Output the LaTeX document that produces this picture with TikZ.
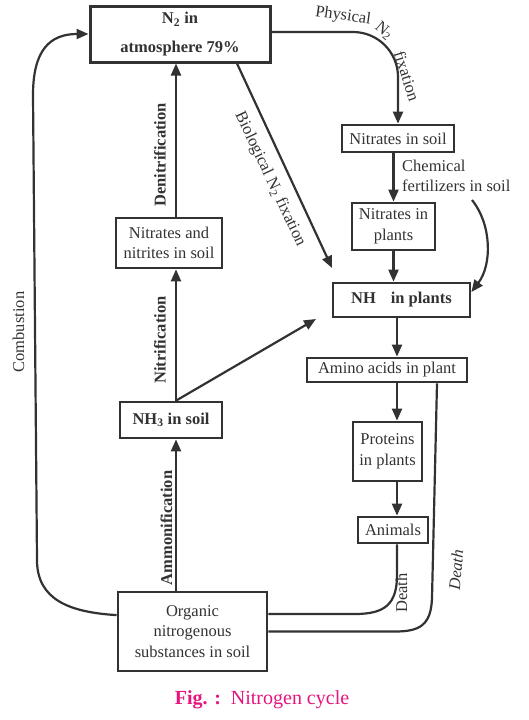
\documentclass[tikz,border=0pt]{standalone}
\usepackage{fontspec}
\setmainfont{Liberation Serif}
\usetikzlibrary{arrows.meta}
\definecolor{ink}{RGB}{50,50,50}
\definecolor{figpink}{RGB}{230,20,125}
\begin{document}
\begin{tikzpicture}[x=1pt,y=-1pt,
  box/.style={draw=ink, line width=2.7pt, align=center, inner sep=0pt, text=ink, font=\fontsize{16.5}{20.5}\selectfont},
  bbox/.style={box, font=\fontsize{16.5}{20.5}\selectfont\bfseries},
  conn/.style={draw=ink, line width=2.2pt},
  arr/.style={conn, -{Triangle[length=12pt,width=10pt]}},
  lbl/.style={text=ink, font=\fontsize{16.5}{20}\selectfont, inner sep=0pt},
  blbl/.style={lbl, font=\fontsize{16.5}{20}\selectfont\bfseries},
  ilbl/.style={lbl, font=\fontsize{16.5}{20}\selectfont\itshape},
]
\useasboundingbox (0,0) rectangle (529,720);

% boxes
\node[bbox, line width=3pt, minimum width=180pt, minimum height=56pt] (n2) at (180,34) {N\textsubscript{2} in\\[8pt]atmosphere 79\%};
\node[box, minimum width=112pt, minimum height=27pt] (nis) at (398,138.5) {Nitrates in soil};
\node[box, minimum width=83pt, minimum height=47pt] (nip) at (393.5,226.5) {Nitrates in\\plants};
\node[bbox, minimum width=137pt, minimum height=34pt] (nhp) at (401.5,300) {NH\hspace{0.9em}in plants};
\node[box, minimum width=160pt, minimum height=24pt] (amino) at (387,370) {Amino acids in plant};
\node[box, minimum width=106pt, minimum height=50pt] (nns) at (169,243) {Nitrates and\\nitrites in soil};
\node[bbox, minimum width=102pt, minimum height=36pt] (nh3) at (171,420) {NH\textsubscript{3} in soil};
\node[box, minimum width=69pt, minimum height=59pt] (prot) at (387.5,451.5) {Proteins\\in plants};
\node[box, minimum width=70pt, minimum height=26pt] (anim) at (393,530) {Animals};
\node[box, minimum width=149pt, minimum height=79pt] (org) at (192.5,631.5) {Organic\\nitrogenous\\substances in soil};

% helper coordinates
\coordinate (lx) at (176,0);
\coordinate (cx) at (397,0);
\coordinate (chemstart) at (472,200);
\coordinate (nhtip) at (316,319);
\coordinate (biotip) at (332,268);

% left column
\draw[arr] (nns.north -| lx) -- (n2.south -| lx);
\draw[arr] (nh3.north -| lx) -- (nns.south -| lx);
\draw[arr] (org.north -| lx) -- (nh3.south -| lx);
\draw[arr] (nh3.north -| lx) -- (nhtip);

% biological fixation
\draw[arr] ([xshift=57pt]n2.south) -- (biotip);

% physical fixation
\draw[arr, rounded corners=45pt] ([yshift=2pt]n2.east) -| (nis.north);

% right column
\draw[arr] (nis.south -| nip.north) -- (nip.north);
\draw[arr] (nip.south) -- (nip.south |- nhp.north);
\draw[arr] (chemstart) .. controls (492,225) and (492,265) .. ([yshift=8pt]nhp.east);
\draw[arr] (nhp.south -| cx) -- (amino.north -| cx);
\draw[arr] (amino.south -| cx) -- (prot.north -| cx);
\draw[arr] (prot.south -| cx) -- (anim.north -| cx);

% death paths
\draw[conn] (anim.south -| cx) -- (397,575) .. controls (397,604) and (385,614) .. (355,614) -- ([yshift=17.5pt]org.east);
\draw[conn] ([xshift=50pt]amino.south) -- (432,598) .. controls (431,625) and (420,631.5) .. (395,631.5) -- (org.east);

% combustion
\draw[arr] ([yshift=16.5pt]org.west) -- (115,615) .. controls (70,612) and (37,600) .. (37,560) -- (33,95) .. controls (33,50) and (50,34) .. (n2.west);

% labels
\node[lbl, rotate=90] at (18.5,332) {Combustion};
\node[blbl, rotate=90] at (160,155) {Denitrification};
\node[blbl, rotate=90] at (160,340) {Nitrification};
\node[blbl, rotate=90] at (166.5,528) {Ammonification};
\node[lbl, rotate=-64.8] at (270,179) {Biological N\textsubscript{2} fixation};
\node[lbl, rotate=-8] at (343,16) {Physical};
\node[lbl, rotate=-40] at (384,31) {N\textsubscript{2}};
\node[lbl, rotate=-72] at (407,76) {fixation};
\node[lbl, anchor=west, align=left] at (402,176) {Chemical\\fertilizers in soil};
\node[lbl, rotate=90] at (401.5,593) {Death};
\node[ilbl, rotate=85] at (456,570) {Death};

% caption
\node[text=figpink, inner sep=0pt, font=\fontsize{20}{24}\selectfont] (cap) at (262,700) {\textbf{Fig. :}\ \ Nitrogen cycle};
\end{tikzpicture}
\end{document}
